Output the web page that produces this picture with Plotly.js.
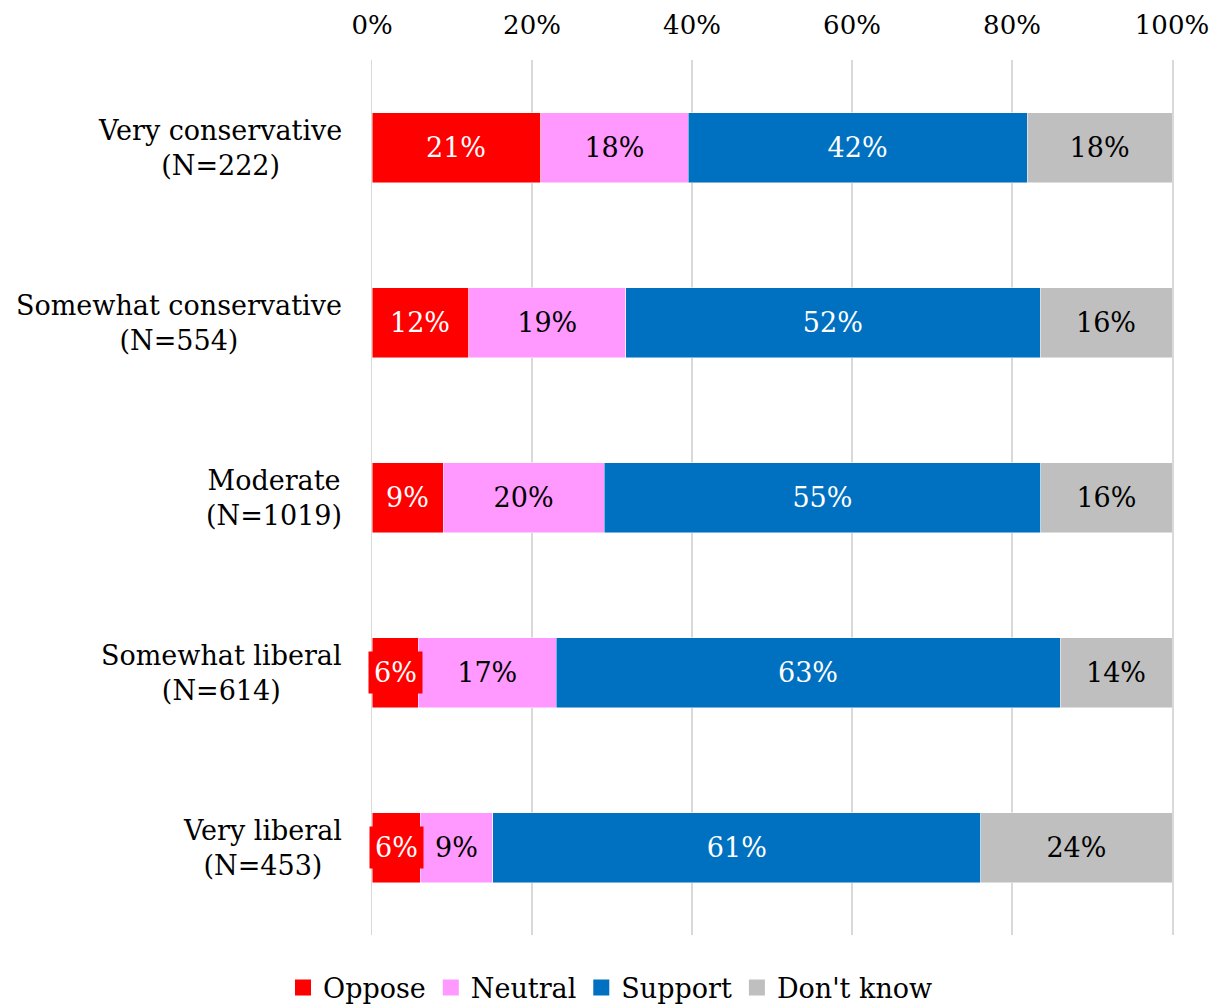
<!DOCTYPE html>
<html>
<head>
<meta charset="utf-8">
<script src="https://cdn.plot.ly/plotly-3.0.1.min.js"></script>
<style>
  html, body { margin: 0; padding: 0; background: #fff; }
  #chart { width: 1221px; height: 1007px; }
</style>
</head>
<body>
<div id="chart"></div>
<script>
// Categories (top to bottom)
const categories = [
  "Very conservative<br>(N=222)",
  "Somewhat conservative<br>(N=554)",
  "Moderate<br>(N=1019)",
  "Somewhat liberal<br>(N=614)",
  "Very liberal<br>(N=453)"
];
const catKeys = ["VC", "SC", "MOD", "SL", "VL"];

// Segment widths (percent)
const oppose  = [21.1, 12.1,  8.9,  5.8,  6.0];
const neutral = [18.4, 19.6, 20.1, 17.2,  9.1];
const support = [42.4, 51.8, 54.6, 63.0, 61.0];
const dontKnow= [18.1, 16.5, 16.4, 14.0, 23.9];

// Data labels as printed on the chart
const opposeLabels  = ["21%", "12%", "9%", "6%", "6%"];
const neutralLabels = ["18%", "19%", "20%", "17%", "9%"];
const supportLabels = ["42%", "52%", "55%", "63%", "61%"];
const dontKnowLabels= ["18%", "16%", "16%", "14%", "24%"];

const seriesNames  = ["Oppose", "Neutral", "Support", "Don't know"];
const seriesColors = ["#FF0000", "#FF99FF", "#0070C0", "#BFBFBF"];

const xTicks = [0, 20, 40, 60, 80, 100];

const FONT = "DejaVu Serif, Georgia, serif";
const LABEL_SIZE = 27;

function barTrace(name, values, labels, color, textColor, showText) {
  return {
    type: "bar",
    orientation: "h",
    name: name,
    y: catKeys,
    x: values,
    showlegend: false,
    marker: { color: color, line: { color: "rgba(255,255,255,0.6)", width: 0.8 } },
    text: showText ? labels : labels.map(() => ""),
    textposition: "inside",
    insidetextanchor: "middle",
    constraintext: "none",
    textfont: { family: FONT, size: LABEL_SIZE, color: textColor },
    hoverinfo: "skip"
  };
}

const data = [
  barTrace(seriesNames[0], oppose, opposeLabels, seriesColors[0], "#FFFFFF", false),
  barTrace(seriesNames[1], neutral, neutralLabels, seriesColors[1], "#000000", true),
  barTrace(seriesNames[2], support, supportLabels, seriesColors[2], "#FFFFFF", true),
  barTrace(seriesNames[3], dontKnow, dontKnowLabels, seriesColors[3], "#000000", true)
];
// Legend entries with larger square symbols
seriesNames.forEach((n, i) => {
  data.push({
    type: "scatter", mode: "markers", name: n,
    x: [null], y: [null],
    marker: { symbol: "square", size: 19, color: seriesColors[i] },
    hoverinfo: "skip", showlegend: true
  });
});

const annotations = [];
// Category labels, centred lines
catKeys.forEach((k, i) => {
  annotations.push({
    xref: "paper", yref: "y", x: -0.035, y: k,
    xanchor: "right", yanchor: "middle", align: "center",
    text: categories[i], showarrow: false,
    font: { family: FONT, size: 27, color: "#000" }
  });
});
// Oppose labels with red background box
catKeys.forEach((k, i) => {
  annotations.push({
    xref: "x", yref: "y", x: oppose[i] / 2, y: k,
    xanchor: "center", yanchor: "middle",
    text: opposeLabels[i], showarrow: false,
    bgcolor: "#FF0000", borderpad: 5,
    font: { family: FONT, size: LABEL_SIZE, color: "#FFFFFF" }
  });
});

const layout = {
  width: 1221,
  height: 1007,
  margin: { l: 372, r: 49, t: 60, b: 72, autoexpand: false },
  paper_bgcolor: "#FFFFFF",
  plot_bgcolor: "#FFFFFF",
  barmode: "stack",
  bargap: 0.6,
  font: { family: FONT, color: "#000" },
  showlegend: true,
  legend: {
    orientation: "h",
    x: 0.5, xanchor: "center", xref: "container",
    y: 0.019, yanchor: "middle", yref: "container",
    font: { family: FONT, size: 27, color: "#000" },
    traceorder: "normal",
    itemclick: false,
    tracegroupgap: 0
  },
  xaxis: {
    side: "top",
    range: [0, 100],
    tickvals: xTicks,
    ticktext: xTicks.map(v => v + "%"),
    showgrid: true,
    gridcolor: "#D9D9D9",
    gridwidth: 1.5,
    zeroline: false,
    showline: false,
    ticks: "",
    ticklabelstandoff: 20,
    tickfont: { family: FONT, size: 26, color: "#000" },
    fixedrange: true
  },
  yaxis: {
    type: "category",
    categoryorder: "array",
    categoryarray: catKeys,
    autorange: "reversed",
    showticklabels: false,
    showgrid: false,
    zeroline: false,
    showline: true,
    mirror: true,
    linecolor: "#D9D9D9",
    linewidth: 1.5,
    ticks: "",
    fixedrange: true
  },
  annotations: annotations
};

Plotly.newPlot("chart", data, layout, { displayModeBar: false, staticPlot: true });
</script>
</body>
</html>
